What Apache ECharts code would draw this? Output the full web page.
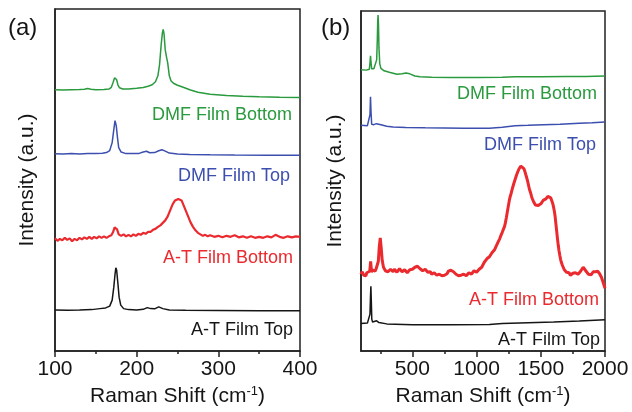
<!DOCTYPE html>
<html>
<head>
<meta charset="utf-8">
<script src="https://cdn.jsdelivr.net/npm/echarts@6/dist/echarts.min.js"></script>
<style>
  html, body { margin: 0; padding: 0; background: #fff; }
  #container { width: 632px; height: 412px; }
</style>
</head>
<body>
<div id="container"></div>
<script>
// (a) low wavenumber region, [Raman shift, intensity a.u.]
var aDmfBottom = [[100,262],[110,261.8],[120,262],[130,262.2],[136,262.6],[140,263.2],[144,262.6],[150,262],[160,262.2],[166,262.7],[169,264.5],[171,269],[173,274],[174,274.5],[175.5,272],[177,267],[179,264],[183,262.7],[190,262.8],[200,263.4],[208,264.2],[214,265.5],[219,267],[223,270],[226,276],[228,287],[230,307],[231.5,319],[232.5,322.5],[233.5,318],[235,302],[236.5,295],[238,289],[240,276],[242,271],[245,268.5],[250,266.5],[257,264.5],[265,262],[275,259.5],[290,257.5],[310,256.2],[330,255.5],[350,255],[375,254.5],[400,254.2]];
var aDmfTop = [[100,197.8],[110,197.5],[120,198],[130,197.7],[140,198],[150,198],[158,198.4],[163,199],[167,201],[170,209],[172,222],[173.5,231],[175,226],[176.5,214],[178,204],[181,199.5],[186,198.2],[195,198],[203,198.2],[208,199.5],[212,200.3],[216,198.8],[222,199],[227,200.8],[231,201.8],[235,200.5],[240,198.5],[250,197.5],[265,197],[290,196.7],[320,196.5],[360,196.4],[400,196.3]];
var aAtBottom = [[100,113],[103,110.5],[106,112.5],[109,111],[112,113.5],[115,111.5],[118,113],[121,110],[124,112.5],[127,111],[130,113.5],[133,112],[136,114],[139,112.5],[142,114.5],[145,112.5],[148,114.5],[151,113],[154,115],[157,113.5],[160,115],[163,113.5],[166,115],[169,116],[171,119],[173,124],[174.5,126],[176,122],[178,117],[181,115.5],[184,117],[187,115],[190,116.5],[193,115],[196,117],[199,115.5],[202,117.5],[205,116.5],[208,118.5],[211,117.5],[214,119.5],[217,119.5],[220,121.5],[223,122.5],[226,124.5],[229,126],[232,128.5],[235,131],[238,135],[241,141],[244,147],[247,151],[249,153],[251,152.5],[253,153.5],[255,151],[257,147],[260,141],[263,135],[266,129],[269,124.5],[272,121],[275,118.5],[278,117],[281,115.5],[284,116.5],[287,115],[290,116],[295,114.5],[300,115.5],[305,114],[310,115.5],[315,114.5],[320,116],[325,114],[330,115],[335,113.5],[340,115],[345,113.5],[350,114.5],[355,113.5],[360,115],[365,114],[370,116.5],[375,114.5],[380,113.5],[385,115],[390,114],[395,115],[400,114.5]];
var aAtTop = [[100,41],[115,40.8],[130,41],[145,41.5],[155,42.5],[162,43.2],[167,45],[170,51],[172,64],[173.5,77],[174.5,83.5],[175.5,81],[177,68],[178.5,54],[180.5,46],[184,42.5],[190,41.5],[200,41.2],[208,41.8],[213,43.5],[217,42.5],[222,42.3],[227,44.2],[232,42.5],[240,41.2],[260,40.8],[300,40.6],[350,40.4],[400,40.3]];

// (b) full range
var bDmfBottom = [[100,282],[140,281.7],[165,282.5],[170,289],[174,296],[178,290],[183,283],[200,283],[215,285],[222,292],[227,312],[230,330],[233,337],[236,328],[240,304],[246,288],[255,283.5],[280,281],[320,279.5],[380,277.5],[420,278],[450,278.8],[480,278],[520,275.8],[560,275],[650,274.5],[800,274.2],[1000,274.3],[1200,274.5],[1300,275],[1500,275],[1700,275.2],[1850,275.3],[2000,275.7]];
var bDmfTop = [[100,226.3],[150,226],[165,227],[170,237],[174,255],[178,240],[183,227.5],[200,227],[220,228],[235,228.5],[255,227],[300,225.5],[350,224.7],[450,224.2],[600,223.8],[750,223.6],[900,223.4],[1100,223.3],[1200,224.5],[1300,225.8],[1400,226.3],[1520,227],[1650,227.5],[1800,228.5],[1900,229],[2000,229.7]];
var bAtBottom = [[100,77],[108,79.5],[115,78],[122,76],[130,77.5],[138,75.5],[145,78.5],[152,76.5],[160,77],[168,80],[175,90],[182,79],[188,81.5],[195,80],[203,82],[210,80],[218,82.5],[225,83],[235,90],[242,104],[250,113.5],[257,104],[265,91],[275,84],[283,82],[290,80.5],[300,82.5],[310,79.5],[320,81.5],[330,82],[340,80],[350,79.5],[360,82],[370,81.5],[380,79],[390,80],[400,82.5],[410,82],[420,79.5],[430,79.5],[440,81.5],[450,81],[460,78.5],[470,79],[480,81.5],[490,80.5],[500,82],[510,81],[520,84],[530,83],[540,85],[550,84],[560,82.5],[570,82],[580,80.5],[590,80],[600,82],[610,81],[620,79],[630,78.5],[640,79.5],[650,77],[660,78],[670,78.5],[680,76.5],[690,76],[700,78],[710,77],[720,75],[730,75.5],[740,77.5],[750,76],[760,78],[770,77.5],[780,80],[790,79],[800,81],[810,80.5],[820,79.5],[830,78.5],[840,77],[850,76.5],[860,75.5],[870,74.5],[880,76],[890,75.5],[900,77],[910,77.5],[920,75.5],[930,76.5],[940,78.5],[950,79],[960,77],[970,78],[980,80.5],[990,80],[1000,79],[1010,80.5],[1020,82],[1030,82.5],[1040,84],[1050,86],[1060,89],[1070,90.5],[1080,92.5],[1090,94],[1100,94.5],[1110,96],[1120,98.5],[1130,99],[1140,101.5],[1150,104.5],[1160,106.5],[1170,110],[1180,112.5],[1190,116],[1200,119],[1210,122.5],[1218,125],[1225,129],[1232,134],[1240,140],[1248,146],[1255,151],[1262,155],[1270,158.5],[1280,163.5],[1290,168],[1300,172],[1310,176],[1320,179.5],[1330,182.5],[1338,184],[1345,185.5],[1352,186],[1360,185],[1368,183],[1375,180.5],[1383,177],[1390,174],[1398,170],[1405,166],[1412,162],[1420,159],[1428,155],[1435,152.5],[1443,150],[1450,148],[1458,146.5],[1465,145.5],[1472,147],[1480,146],[1488,146.5],[1495,147.5],[1503,148],[1510,149],[1518,151],[1525,150.5],[1533,152],[1540,152.5],[1548,154.5],[1555,155],[1563,154.5],[1570,155.5],[1578,153.5],[1585,151],[1593,148],[1600,144],[1606,140],[1612,134.5],[1618,127],[1624,120],[1630,112.5],[1636,106],[1642,100.5],[1648,96],[1654,92],[1660,89],[1668,86],[1675,84],[1683,81.5],[1690,80.5],[1700,79],[1710,77.5],[1720,78.5],[1730,76],[1740,77],[1750,78],[1760,76.5],[1770,78.5],[1780,79],[1790,77],[1800,79],[1810,80],[1820,82],[1830,84],[1840,82.5],[1850,80.5],[1860,78.5],[1870,77],[1878,75.5],[1885,75],[1893,76.5],[1900,78],[1908,79.5],[1915,80],[1925,79.5],[1935,81],[1943,80],[1950,79],[1958,77.5],[1965,76],[1972,74],[1980,71],[1986,69],[1990,67],[1995,65],[2000,63]];
var bAtTop = [[100,27.7],[150,28],[165,28.5],[170,37],[174,55],[177,65],[180,52],[184,32],[190,29],[205,30],[222,30.3],[240,28.5],[300,27.2],[500,26.3],[800,26.4],[1100,26.7],[1200,27.5],[1400,28.3],[1600,29],[1800,30],[2000,31.3]];

var bMajorTicks = [500, 1000, 1500, 2000];
var bMinorTicks = [250, 750, 1250, 1750];
var names = ['DMF Film Bottom', 'DMF Film Top', 'A-T Film Bottom', 'A-T Film Top'];

var GREEN = '#2a9a3e', BLUE = '#3c4fae', RED = '#ea2a2e', BLACK = '#151515';
var FONT = '"Liberation Sans", Arial, sans-serif';
var AXIS = '#222';

var myChart = echarts.init(document.getElementById('container'));

var xName = {
    name: 'Raman Shift (cm{sup|-1})',
    nameLocation: 'middle',
    nameGap: 34,
    nameTextStyle: {
        color: BLACK, fontFamily: FONT, fontSize: 21,
        rich: { sup: { fontSize: 13, verticalAlign: 'top', padding: [0, 0, 10, 0], color: BLACK, fontFamily: FONT } }
    }
};

function plain(v) { return String(v); }

function line(name, data, color, width, x, y) {
    return {
        name: name, type: 'line', xAxisIndex: x, yAxisIndex: y,
        data: data, showSymbol: false, symbol: 'none',
        lineStyle: { color: color, width: width }, animation: false
    };
}

function note(text, x, y, color) {
    return {
        type: 'text', x: x, y: y,
        style: { text: text, fill: color, font: '18px ' + FONT, textAlign: 'right', textVerticalAlign: 'middle' }
    };
}

var option = {
    backgroundColor: '#ffffff',
    animation: false,
    grid: [
        { left: 55, top: 9, width: 245, height: 343, show: true, borderColor: AXIS, borderWidth: 1.5 },
        { left: 361, top: 11, width: 244, height: 341, show: true, borderColor: AXIS, borderWidth: 1.5 }
    ],
    xAxis: [
        Object.assign({
            type: 'value', gridIndex: 0, position: 'bottom', min: 100, max: 400, interval: 100,
            axisLine: { lineStyle: { color: AXIS, width: 1.5 } },
            axisTick: { inside: false, length: 6, lineStyle: { color: AXIS, width: 1.5 } },
            minorTick: { show: true, splitNumber: 2, length: 3, lineStyle: { color: AXIS, width: 1.5 } },
            axisLabel: { color: BLACK, fontFamily: FONT, fontSize: 21, margin: 8, formatter: plain },
            splitLine: { show: false }
        }, xName),
        Object.assign({
            type: 'value', gridIndex: 1, position: 'bottom', min: 100, max: 2000,
            axisLine: { lineStyle: { color: AXIS, width: 1.5 } },
            axisTick: { inside: false, length: 6, customValues: bMajorTicks, lineStyle: { color: AXIS, width: 1.5 } },
            axisLabel: { color: BLACK, fontFamily: FONT, fontSize: 21, margin: 8, customValues: bMajorTicks, formatter: plain },
            splitLine: { show: false }
        }, xName),
        {
            type: 'value', gridIndex: 1, position: 'bottom', offset: 0, min: 100, max: 2000,
            axisLine: { show: false },
            axisTick: { inside: false, length: 3, customValues: bMinorTicks, lineStyle: { color: AXIS, width: 1.5 } },
            axisLabel: { show: false },
            splitLine: { show: false }
        }
    ],
    yAxis: [
        {
            type: 'value', gridIndex: 0, min: 0, max: 343,
            name: 'Intensity (a.u.)', nameLocation: 'middle', nameGap: 17,
            nameTextStyle: { color: BLACK, fontFamily: FONT, fontSize: 21 },
            axisLine: { show: true, lineStyle: { color: AXIS, width: 1.5 } },
            axisTick: { show: false }, axisLabel: { show: false }, splitLine: { show: false }
        },
        {
            type: 'value', gridIndex: 1, min: 0, max: 341,
            name: 'Intensity (a.u.)', nameLocation: 'middle', nameGap: 15,
            nameTextStyle: { color: BLACK, fontFamily: FONT, fontSize: 21 },
            axisLine: { show: true, lineStyle: { color: AXIS, width: 1.5 } },
            axisTick: { show: false }, axisLabel: { show: false }, splitLine: { show: false }
        }
    ],
    series: [
        line(names[0], aDmfBottom, GREEN, 1.5, 0, 0),
        line(names[1], aDmfTop, BLUE, 1.5, 0, 0),
        line(names[2], aAtBottom, RED, 2.2, 0, 0),
        line(names[3], aAtTop, BLACK, 1.5, 0, 0),
        line(names[0], bDmfBottom, GREEN, 1.5, 1, 1),
        line(names[1], bDmfTop, BLUE, 1.5, 1, 1),
        line(names[2], bAtBottom, RED, 3, 1, 1),
        line(names[3], bAtTop, BLACK, 1.5, 1, 1)
    ],
    graphic: [
        { type: 'text', x: 8, y: 28, style: { text: '(a)', fill: BLACK, font: '24px ' + FONT, textVerticalAlign: 'middle' } },
        { type: 'text', x: 321, y: 28, style: { text: '(b)', fill: BLACK, font: '24px ' + FONT, textVerticalAlign: 'middle' } },
        note(names[0], 292, 115, GREEN),
        note(names[1], 290, 176, BLUE),
        note(names[2], 293, 258, RED),
        note(names[3], 293, 330, BLACK),
        note(names[0], 597, 94, GREEN),
        note(names[1], 596, 145, BLUE),
        note(names[2], 599, 300, RED),
        note(names[3], 600, 340, BLACK)
    ]
};
myChart.setOption(option);
</script>
</body>
</html>
